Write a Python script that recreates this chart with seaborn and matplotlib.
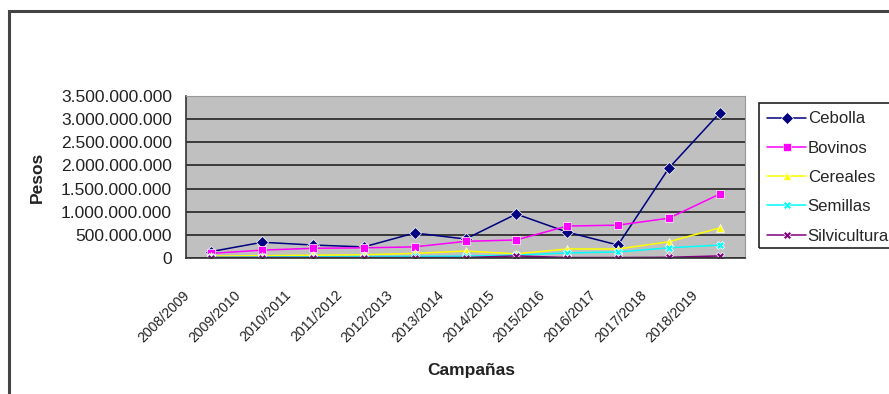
import pandas as pd
import matplotlib
matplotlib.use("Agg")
import matplotlib.pyplot as plt
import matplotlib.transforms as mtransforms
from matplotlib.patches import Rectangle
from matplotlib.ticker import FuncFormatter, FixedLocator
import seaborn as sns

campanas = ["2008/2009", "2009/2010", "2010/2011", "2011/2012", "2012/2013",
            "2013/2014", "2014/2015", "2015/2016", "2016/2017", "2017/2018",
            "2018/2019"]

# valores en millones de pesos
cebolla = [140, 340, 280, 240, 540, 410, 950, 560, 280, 1940, 3130]
bovinos = [100, 170, 210, 220, 240, 360, 390, 690, 710, 860, 1380]
cereales = [40, 50, 60, 70, 100, 150, 90, 195, 195, 350, 650]
semillas = [15, 20, 25, 30, 35, 40, 60, 110, 130, 220, 280]
silvicultura = [10, 10, 10, 10, 10, 10, 45, 10, 10, 15, 45]

series = {
    "Cebolla": cebolla,
    "Bovinos": bovinos,
    "Cereales": cereales,
    "Semillas": semillas,
    "Silvicultura": silvicultura,
}

rows = []
for nombre, vals in series.items():
    for i, v in enumerate(vals):
        rows.append({"idx": i, "campana": campanas[i], "serie": nombre, "pesos": v * 1e6})
df = pd.DataFrame(rows)

palette = {"Cebolla": "#000080", "Bovinos": "#FF00FF", "Cereales": "#FFFF00",
           "Semillas": "#00FFFF", "Silvicultura": "#800080"}
markers = {"Cebolla": "D", "Bovinos": "s", "Cereales": "^",
           "Semillas": "X", "Silvicultura": "X"}

sns.set_style("white")
plt.rcParams["font.family"] = ["Liberation Sans", "DejaVu Sans"]

W, H = 889, 394
fig = plt.figure(figsize=(W / 100, H / 100), dpi=100)
ax = fig.add_axes([186 / W, (H - 258) / H, (745 - 186) / W, (258 - 96) / H])
ax.set_facecolor("#C0C0C0")

sns.lineplot(data=df, x="idx", y="pesos", hue="serie", style="serie",
             palette=palette, markers=markers, dashes=False, linewidth=1.1,
             markersize=6, markeredgewidth=0.5, ax=ax)

ax.set_xlim(-0.5, len(campanas) - 0.5)
ax.set_ylim(0, 3.5e9)
ax.set_yticks([i * 5e8 for i in range(8)])
ax.yaxis.set_major_formatter(FuncFormatter(lambda v, p: f"{int(v):,}".replace(",", ".")))
ax.grid(axis="y", color="#3a3a3a", linewidth=1.4)
ax.set_axisbelow(True)

ax.set_xticks(range(len(campanas)))
ax.set_xticklabels(campanas)
ax.xaxis.set_minor_locator(FixedLocator([i - 0.5 for i in range(len(campanas) + 1)]))
ax.tick_params(axis="x", which="major", length=0, pad=0)
ax.tick_params(axis="x", which="minor", length=5, width=1, color="#333333", direction="out")
ax.tick_params(axis="y", length=5, width=1, color="#333333", labelsize=12.5, pad=5,
               labelcolor="#222222")

offset = mtransforms.ScaledTranslation(-19 / 100, -30 / 100, fig.dpi_scale_trans)
for lbl in ax.get_xticklabels():
    lbl.set_rotation(45)
    lbl.set_ha("right")
    lbl.set_va("top")
    lbl.set_fontsize(10.2)
    lbl.set_color("#222222")
    lbl.set_transform(lbl.get_transform() + offset)

for side in ["left", "bottom"]:
    ax.spines[side].set_color("#333333")
    ax.spines[side].set_linewidth(1.2)
for side in ["top", "right"]:
    ax.spines[side].set_color("#999999")
    ax.spines[side].set_linewidth(0.8)

ax.set_xlabel("Campañas", fontsize=12.5, fontweight="bold", color="#222222")
ax.xaxis.set_label_coords(0.51, -0.65)
ax.set_ylabel("Pesos", fontsize=12.5, fontweight="bold", color="#222222")
ax.yaxis.set_label_coords(-0.252, 0.5)

handles, labels = ax.get_legend_handles_labels()
ax.legend(handles, labels, loc="upper left",
          bbox_to_anchor=(759 / W, 1 - 103 / H), bbox_transform=fig.transFigure,
          fontsize=12.1, frameon=False, handlelength=2.3, handletextpad=0.1,
          labelspacing=0.85, borderpad=0.5, borderaxespad=0)

# marco de la leyenda, que sigue fuera del borde derecho como en el original
fig.patches.append(Rectangle((759 / W, 1 - 248 / H), 0.5, (248 - 103) / H,
                             transform=fig.transFigure, fill=False,
                             edgecolor="#222222", linewidth=1.2))

fig.patches.append(Rectangle((9 / W, -0.2), 1.2, 1.2 - 11 / H,
                             transform=fig.transFigure, fill=False,
                             edgecolor="#444444", linewidth=2.2))

fig.savefig("out.png", dpi=100)
